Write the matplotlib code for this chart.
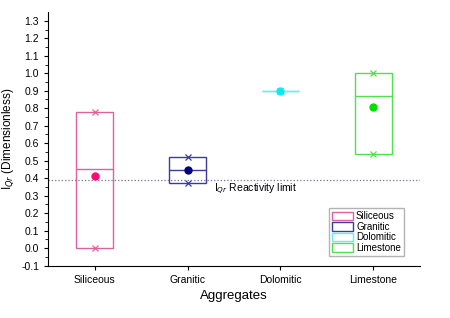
import matplotlib.pyplot as plt
from matplotlib.patches import Rectangle
import numpy as np

categories = ["Siliceous", "Granitic", "Dolomitic", "Limestone"]
q1 = [0.0, 0.37, 0.90, 0.54]
q3 = [0.78, 0.52, 0.90, 1.00]
median = [0.45, 0.445, 0.90, 0.87]
mean = [0.41, 0.445, 0.90, 0.805]
max_vals = [0.78, 0.52, 0.90, 1.00]
min_vals = [0.0, 0.37, 0.90, 0.54]
reactivity_limit = 0.39

edge_colors = ["#e060a0", "#3c3c9c", "#60f0f0", "#50e050"]
dot_colors = ["#ff0a78", "#000080", "#10e8f0", "#00e000"]

plt.rcParams['font.family'] = ['Liberation Sans', 'DejaVu Sans']

fig = plt.figure(figsize=(4.5, 3.18), dpi=100)
ax = fig.add_axes([0.107, 0.165, 0.826, 0.797])

x = np.arange(1, len(categories) + 1)
w = 0.4
for i in range(len(categories)):
    ax.add_patch(Rectangle((x[i] - w / 2, q1[i]), w, q3[i] - q1[i],
                           fill=False, edgecolor=edge_colors[i], lw=1.0,
                           label=categories[i]))
    ax.hlines(median[i], x[i] - w / 2, x[i] + w / 2, color=edge_colors[i], lw=1.0)
    ax.plot([x[i], x[i]], [max_vals[i], min_vals[i]], ls='none', marker='x',
            ms=5, mew=0.9, color=edge_colors[i])
    ax.plot(x[i], mean[i], 'o', ms=5, color=dot_colors[i])

ax.axhline(reactivity_limit, color='#7070a0', ls=':', lw=0.9)
ax.text(2.28, reactivity_limit - 0.012, r"I$_{Qr}$ Reactivity limit", fontsize=7.5,
        va='top', ha='left')

ax.set_xlim(0.5, 4.5)
ax.set_ylim(-0.1, 1.35)
ax.set_xticks(x)
ax.set_xticklabels(categories, fontsize=7.5)
ax.set_yticks(np.arange(-0.1, 1.31, 0.1))
ax.set_yticklabels([f"{v:.1f}" for v in np.arange(-0.1, 1.31, 0.1)], fontsize=7.5)
ax.set_yticks(np.arange(-0.05, 1.35, 0.1), minor=True)
ax.tick_params(axis='both', direction='out', length=3, width=0.8)
ax.tick_params(axis='y', which='minor', length=2)
ax.spines['top'].set_visible(False)
ax.spines['right'].set_visible(False)

ax.set_xlabel("Aggregates", fontsize=9.5)
ax.set_ylabel(r"I$_{Qr}$ (Dimensionless)", fontsize=8.5)

ax.legend(loc='lower right', fontsize=7, handlelength=2.2, handleheight=1.0,
          borderpad=0.3, labelspacing=0.05, handletextpad=0.3,
          fancybox=False, edgecolor='#a0a0a0', bbox_to_anchor=(0.97, 0.02))

fig.savefig("out.png", dpi=100)
